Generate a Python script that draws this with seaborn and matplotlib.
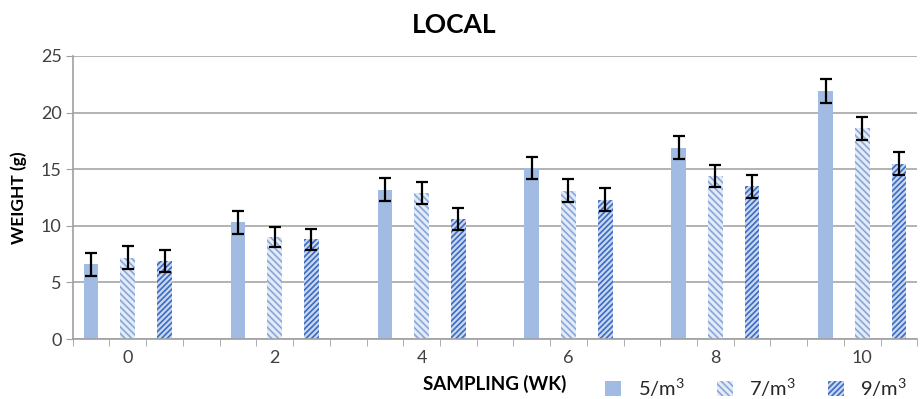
import pandas as pd
import numpy as np
import matplotlib.pyplot as plt
import seaborn as sns

### Data ----------------------------------------------------------------------
weeks = ["0", "2", "4", "6", "8", "10"]
densities = ["5/m$^3$", "7/m$^3$", "9/m$^3$"]
weight_5 = [6.6, 10.3, 13.2, 15.1, 16.9, 21.9]
weight_7 = [7.2, 9.0, 12.9, 13.1, 14.4, 18.6]
weight_9 = [6.9, 8.8, 10.6, 12.3, 13.5, 15.5]
err_5 = [1.0, 1.0, 1.0, 1.0, 1.0, 1.05]
err_7 = [1.0, 0.9, 1.0, 1.0, 1.0, 1.0]
err_9 = [1.0, 0.9, 1.0, 1.0, 1.0, 1.0]

df = pd.DataFrame({
    "week": weeks * 3,
    "density": np.repeat(densities, len(weeks)),
    "weight": weight_5 + weight_7 + weight_9,
})
errors = [err_5, err_7, err_9]

### Plot ----------------------------------------------------------------------
sns.set_style("white")
plt.rcParams['font.family'] = ['Lato', 'DejaVu Sans']
plt.rcParams['mathtext.fontset'] = 'custom'
plt.rcParams['mathtext.rm'] = 'Lato'
plt.rcParams['hatch.linewidth'] = 1.2

fig = plt.figure(figsize=(9.21, 3.99), dpi=100)
ax = fig.add_axes([0.079, 0.150, 0.917, 0.710])

sns.barplot(data=df, x="week", y="weight", hue="density", order=weeks,
            hue_order=densities, width=0.75, gap=0.6, errorbar=None,
            legend=False, ax=ax)

bar_containers = list(ax.containers)
styles = [
    dict(face="#a2bbe2", hatch="", edge="#a2bbe2"),
    dict(face="#e3ebf7", hatch="\\\\\\\\\\", edge="#88a6da"),
    dict(face="#c9d7ef", hatch="//////", edge="#3b6bc2"),
]
for cont, st, err in zip(bar_containers, styles, errors):
    xs, hs = [], []
    for bar in cont.patches:
        bar.set_facecolor(st["face"])
        bar.set_edgecolor(st["edge"])
        bar.set_hatch(st["hatch"])
        bar.set_linewidth(0)
        xs.append(bar.get_x() + bar.get_width() / 2)
        hs.append(bar.get_height())
    ax.errorbar(xs, hs, yerr=err, fmt="none", ecolor="black",
                elinewidth=1.6, capsize=4, capthick=1.6, zorder=5)

# axes, grid, ticks
ax.set_ylim(0, 25)
ax.set_yticks([0, 5, 10, 15, 20, 25])
ax.set_xlim(-0.375, len(weeks) - 1 + 0.375)
ax.set_xticks(np.arange(-0.375, len(weeks) - 0.5, 0.25), minor=True)
ax.yaxis.grid(True, color="#a6a6a6", linewidth=1.2)
ax.set_axisbelow(True)
for s in ["top", "right"]:
    ax.spines[s].set_visible(False)
for s in ["left", "bottom"]:
    ax.spines[s].set_color("#a0a0a0")
    ax.spines[s].set_linewidth(1.2)
ax.tick_params(axis="y", which="major", length=5, color="#a0a0a0",
               labelsize=13, labelcolor="#404040", left=True, pad=3)
ax.tick_params(axis="x", which="major", length=0, labelsize=13,
               labelcolor="#404040", pad=8)
ax.tick_params(axis="x", which="minor", length=5, color="#a0a0a0",
               bottom=True, direction="out")

ax.set_xlabel("SAMPLING (WK)", fontsize=13.5, fontweight="bold", labelpad=6,
              color="black")
ax.set_ylabel("WEIGHT (g)", fontsize=12.5, fontweight="bold", labelpad=10,
              color="black")
fig.text(0.493, 0.937, "LOCAL", ha="center", va="center",
         fontsize=19, fontweight="bold", color="black")

handles = [c.patches[0] for c in bar_containers]
leg = fig.legend(handles, densities, loc="lower right",
                 bbox_to_anchor=(1.005, -0.045), ncol=3, frameon=False,
                 fontsize=14.5, handlelength=0.8, handleheight=0.8,
                 columnspacing=1.6, handletextpad=0.8)
for t in leg.get_texts():
    t.set_color("#262626")

fig.savefig("out.png", dpi=100)
